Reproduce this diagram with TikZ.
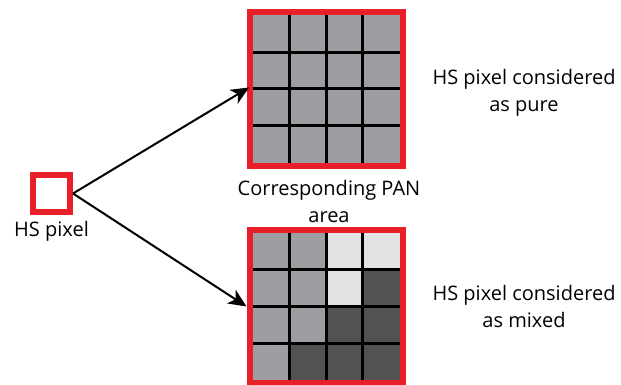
\documentclass[tikz,border=0pt]{standalone}
\usepackage{fontspec}
\setmainfont{Open Sans}
\usetikzlibrary{arrows.meta}
\definecolor{hsred}{HTML}{E8202A}
\definecolor{midgray}{HTML}{9D9EA1}
\definecolor{lightgray}{HTML}{E2E3E5}
\definecolor{darkgray}{HTML}{525254}
\tikzset{
  x=1pt,y=-1pt,
  gridbox/.style={draw=hsred,line width=6pt,minimum size=153pt,inner sep=0pt},
  pixbox/.style={draw=hsred,line width=6pt,minimum size=37pt,inner sep=0pt,fill=white},
  gridline/.style={black,line width=3pt},
  conn/.style={black,line width=2pt,-{Stealth[length=18pt,width=16pt,inset=5pt]}},
  lbl/.style={font=\fontsize{20}{27}\selectfont,align=center,inner sep=0pt}
}
\newcommand{\gridat}[3]{% center x, center y, list of colours (row-major)
  \foreach \c [count=\i from 0] in {#3}{
    \pgfmathtruncatemacro{\r}{div(\i,4)}
    \pgfmathtruncatemacro{\q}{mod(\i,4)}
    \fill[\c] ({#1-76.5+\q*38.25},{#2-76.5+\r*38.25}) rectangle ++(38.25,38.25);
  }
  \foreach \k in {-1,0,1}{
    \draw[gridline] ({#1+\k*36.75},{#2-75}) -- ({#1+\k*36.75},{#2+75});
    \draw[gridline] ({#1-75},{#2+\k*36.75}) -- ({#1+75},{#2+\k*36.75});
  }
}
\begin{document}
\begin{tikzpicture}
\useasboundingbox (0,0) rectangle (621,385);
\gridat{326}{89}{midgray,midgray,midgray,midgray,midgray,midgray,midgray,midgray,midgray,midgray,midgray,midgray,midgray,midgray,midgray,midgray}
\gridat{326}{306.5}{midgray,midgray,lightgray,lightgray,midgray,midgray,lightgray,darkgray,midgray,midgray,darkgray,darkgray,midgray,darkgray,darkgray,darkgray}
\node[gridbox] (top) at (326,89) {};
\node[gridbox] (bot) at (326,306.5) {};
\node[pixbox] (hs) at (51.5,193.5) {};
\node[lbl] (hslbl) at (51.5,231) {HS pixel};
\node[lbl] (panlbl) at (329,201) {Corresponding PAN\\area};
\node[lbl] (purelbl) at (524,93) {HS pixel considered\\as pure};
\node[lbl] (mixlbl) at (524,306) {HS pixel considered\\as mixed};
\draw[conn,shorten >=-3pt] (hs.east) -- (top.west);
\draw[conn] (hs.east) -- (bot.west);
\end{tikzpicture}
\end{document}
